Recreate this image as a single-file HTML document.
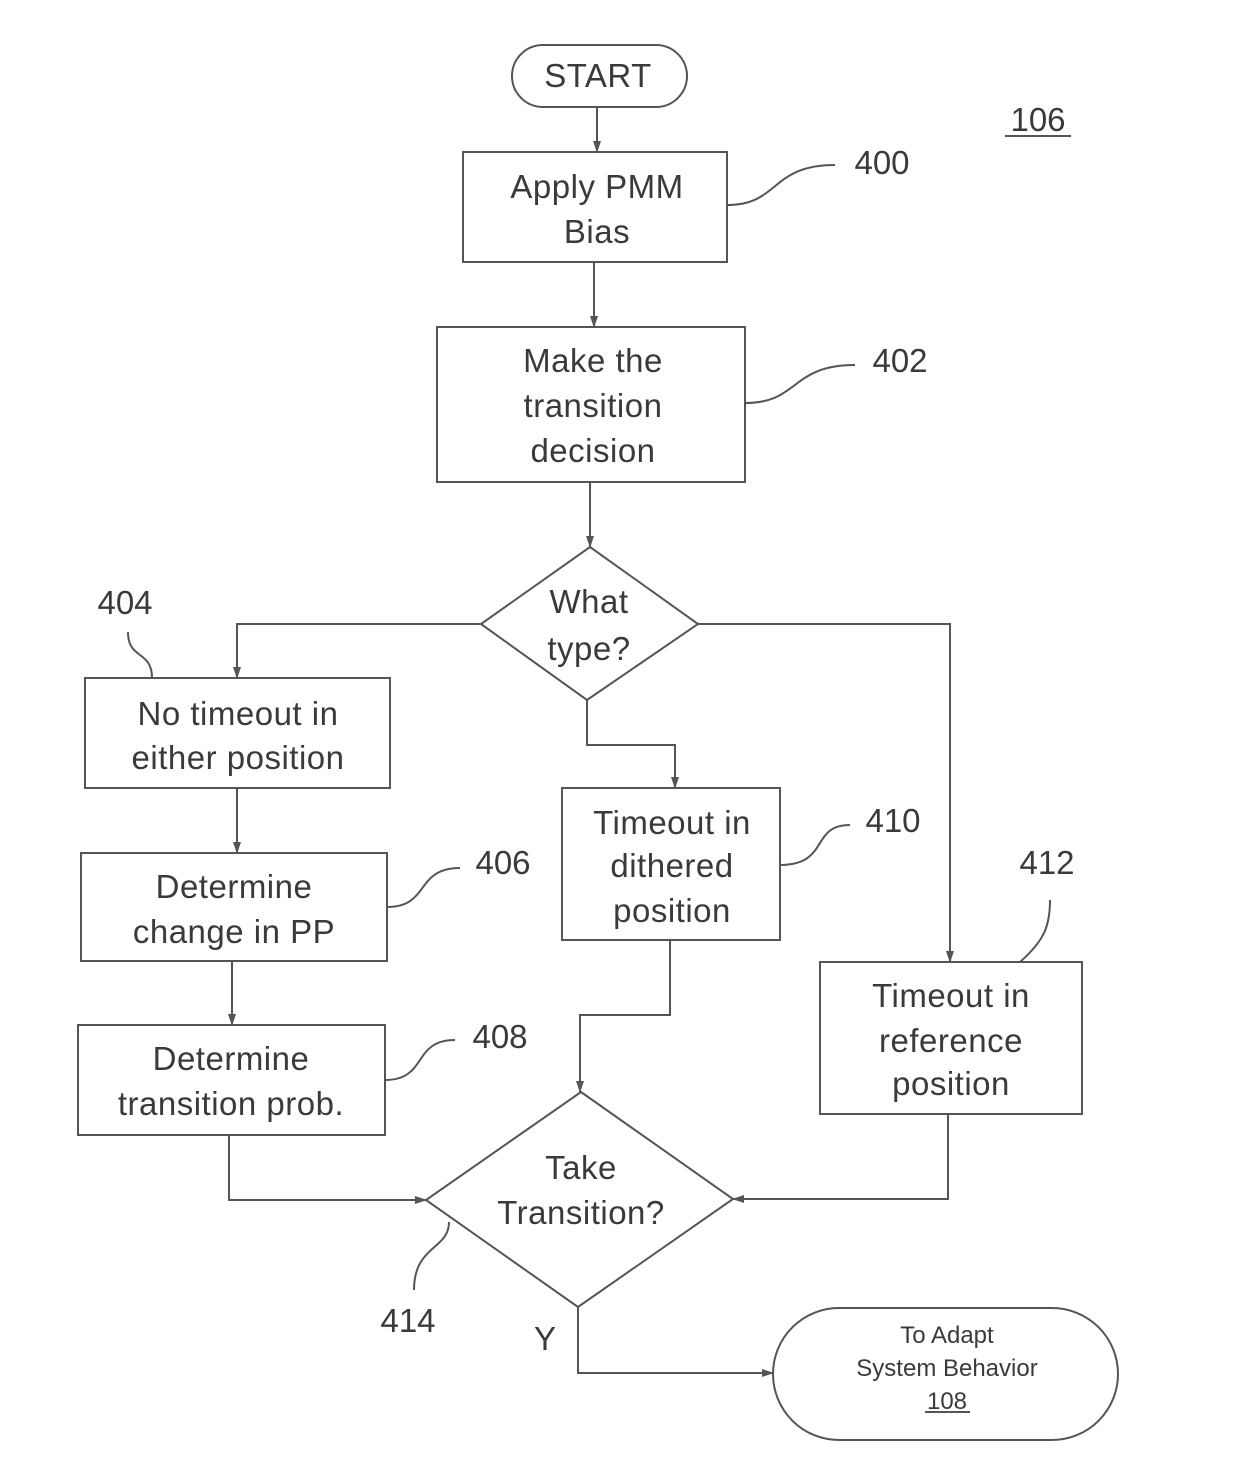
<!DOCTYPE html>
<html><head><meta charset="utf-8"><style>
html,body{margin:0;padding:0;background:#fff}
svg{display:block}
text{font-family:"Liberation Sans",sans-serif;fill:#3a3a3a;text-anchor:middle}
.b{font-size:33px;letter-spacing:0.5px}
.l{font-size:33px}
</style></head><body>
<svg width="1240" height="1476" viewBox="0 0 1240 1476" xmlns="http://www.w3.org/2000/svg">
<defs><marker id="a" markerWidth="12" markerHeight="10" refX="11" refY="5" orient="auto" markerUnits="userSpaceOnUse"><path d="M0,1 L12,5 L0,9 z" fill="#555"/></marker></defs>
<g stroke="#555" stroke-width="2" fill="none">
<rect x="512" y="45" width="175" height="62" rx="31"/>
<rect x="463" y="152" width="264" height="110"/>
<rect x="437" y="327" width="308" height="155"/>
<polygon points="590,547 698,624 587,700 481,624"/>
<rect x="85" y="678" width="305" height="110"/>
<rect x="81" y="853" width="306" height="108"/>
<rect x="78" y="1025" width="307" height="110"/>
<rect x="562" y="788" width="218" height="152"/>
<rect x="820" y="962" width="262" height="152"/>
<polygon points="581,1092 733,1199 578,1307 426,1200"/>
<rect x="773" y="1308" width="345" height="132" rx="66"/>
<path d="M597,107 V152" marker-end="url(#a)"/>
<path d="M594,262 V327" marker-end="url(#a)"/>
<path d="M590,482 V547" marker-end="url(#a)"/>
<path d="M481,624 H237 V678" marker-end="url(#a)"/>
<path d="M237,788 V853" marker-end="url(#a)"/>
<path d="M232,961 V1025" marker-end="url(#a)"/>
<path d="M229,1135 V1200 H426" marker-end="url(#a)"/>
<path d="M587,700 V745 H675 V788" marker-end="url(#a)"/>
<path d="M670,940 V1015 H580 V1092" marker-end="url(#a)"/>
<path d="M698,624 H950 V962" marker-end="url(#a)"/>
<path d="M948,1114 V1199 H733" marker-end="url(#a)"/>
<path d="M578,1307 V1373 H773" marker-end="url(#a)"/>
<path d="M727,205 C780,205 770,165 835,165"/>
<path d="M745,403 C800,403 790,365 855,365"/>
<path d="M152,678 C152,650 128,660 128,632"/>
<path d="M387,907 C430,907 415,868 460,868"/>
<path d="M385,1080 C428,1080 412,1040 455,1040"/>
<path d="M780,865 C830,865 810,825 850,825"/>
<path d="M1020,962 C1045,940 1050,925 1050,900"/>
<path d="M449,1222 C449,1250 414,1245 414,1290"/>
<path d="M1005,136 H1071"/>
<path d="M925,1412 H970"/>
</g>
<text class="b" x="598" y="87">START</text>
<text class="l" x="1038" y="131">106</text>
<text class="b" x="597" y="198">Apply PMM</text>
<text class="b" x="597" y="243">Bias</text>
<text class="l" x="882" y="174">400</text>
<text class="b" x="593" y="372">Make the</text>
<text class="b" x="593" y="417">transition</text>
<text class="b" x="593" y="462">decision</text>
<text class="l" x="900" y="372">402</text>
<text class="b" x="589" y="613">What</text>
<text class="b" x="589" y="660">type?</text>
<text class="l" x="125" y="614">404</text>
<text class="b" x="238" y="725">No timeout in</text>
<text class="b" x="238" y="769">either position</text>
<text class="b" x="234" y="898">Determine</text>
<text class="b" x="234" y="943">change in PP</text>
<text class="l" x="503" y="874">406</text>
<text class="b" x="231" y="1070">Determine</text>
<text class="b" x="231" y="1115">transition prob.</text>
<text class="l" x="500" y="1048">408</text>
<text class="b" x="672" y="834">Timeout in</text>
<text class="b" x="672" y="877">dithered</text>
<text class="b" x="672" y="922">position</text>
<text class="l" x="893" y="832">410</text>
<text class="b" x="951" y="1007">Timeout in</text>
<text class="b" x="951" y="1052">reference</text>
<text class="b" x="951" y="1095">position</text>
<text class="l" x="1047" y="874">412</text>
<text class="b" x="581" y="1179">Take</text>
<text class="b" x="581" y="1224">Transition?</text>
<text class="l" x="408" y="1332">414</text>
<text class="l" x="545" y="1350">Y</text>
<text x="947" y="1343" style="font-size:24px">To Adapt</text>
<text x="947" y="1376" style="font-size:24px">System Behavior</text>
<text x="947" y="1409" style="font-size:24px">108</text>
</svg>
</body></html>
